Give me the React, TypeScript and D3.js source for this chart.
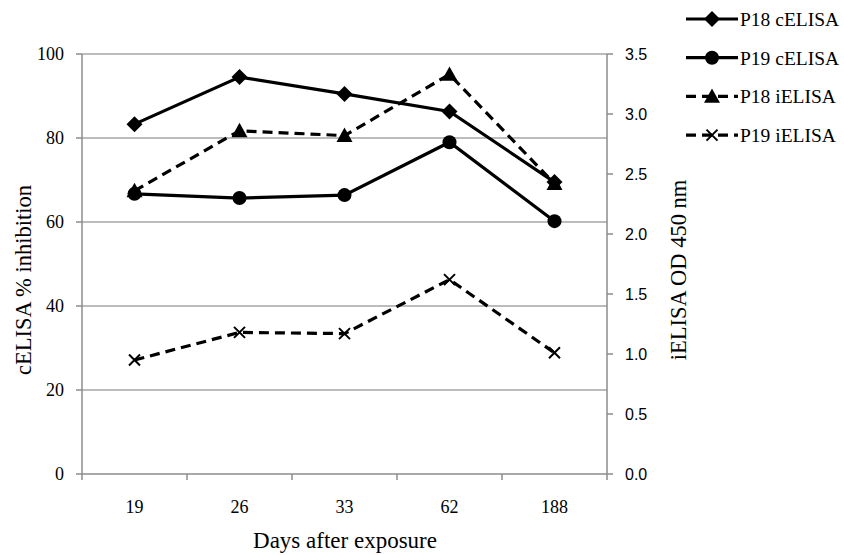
import React from "react";
import * as d3 from "d3";

const categories = ["19", "26", "33", "62", "188"];
const p18cELISA = [83.3, 94.5, 90.5, 86.3, 69.5];
const p19cELISA = [66.7, 65.7, 66.4, 79.0, 60.2];
const p18iELISA = [2.36, 2.86, 2.82, 3.33, 2.42];
const p19iELISA = [0.95, 1.18, 1.17, 1.62, 1.01];
const leftTicks = [0, 20, 40, 60, 80, 100];
const rightTicks = [0, 0.5, 1.0, 1.5, 2.0, 2.5, 3.0, 3.5];
const legendLabels = ["P18 cELISA", "P19 cELISA", "P18 iELISA", "P19 iELISA"];

const W = 844, H = 555;
const left = 82, right = 607, top = 54, bottom = 474;
const serif = "'Liberation Serif', 'Times New Roman', serif";
const sans = "'Liberation Sans', Arial, sans-serif";

type Marker = "diamond" | "circle" | "triangle" | "x";

function MarkerShape({ type, x, y }: { type: Marker; x: number; y: number }) {
  if (type === "diamond") {
    const s = 8;
    return <path d={`M${x},${y - s}L${x + s},${y}L${x},${y + s}L${x - s},${y}Z`} fill="#000" />;
  }
  if (type === "circle") return <circle cx={x} cy={y} r={7} fill="#000" />;
  if (type === "triangle") {
    const s = 8;
    return <path d={`M${x},${y - s}L${x + s},${y + s * 0.8}L${x - s},${y + s * 0.8}Z`} fill="#000" />;
  }
  const s = 5.5;
  return (
    <path d={`M${x - s},${y - s}L${x + s},${y + s}M${x - s},${y + s}L${x + s},${y - s}`} stroke="#000" strokeWidth={2} />
  );
}

export default function App() {
  const x = d3.scaleBand<string>().domain(categories).range([left, right]);
  const yL = d3.scaleLinear().domain([0, 100]).range([bottom, top]);
  const yR = d3.scaleLinear().domain([0, 3.5]).range([bottom, top]);
  const cx = (c: string) => (x(c) as number) + x.bandwidth() / 2;

  const series: { vals: number[]; scale: d3.ScaleLinear<number, number>; dashed: boolean; marker: Marker }[] = [
    { vals: p18cELISA, scale: yL, dashed: false, marker: "diamond" },
    { vals: p19cELISA, scale: yL, dashed: false, marker: "circle" },
    { vals: p18iELISA, scale: yR, dashed: true, marker: "triangle" },
    { vals: p19iELISA, scale: yR, dashed: true, marker: "x" },
  ];

  const line = (vals: number[], s: d3.ScaleLinear<number, number>) =>
    d3.line<number>().x((_, i) => cx(categories[i])).y((v) => s(v))(vals) as string;

  const axisColor = "#8c8c8c";
  const xTickPos = [...categories.map((c) => x(c) as number), right];

  return (
    <svg width={W} height={H} style={{ position: "absolute", left: 0, top: 0, background: "#fff" }}>
      {/* gridlines */}
      {leftTicks.filter((t) => t > 0).map((t) => (
        <line key={t} x1={left} x2={right} y1={yL(t)} y2={yL(t)} stroke="#a6a6a6" strokeWidth={1.5} />
      ))}
      {/* left axis */}
      <line x1={left} x2={left} y1={top} y2={bottom} stroke={axisColor} strokeWidth={1.5} />
      {leftTicks.map((t) => (
        <g key={t}>
          <line x1={left - 6} x2={left} y1={yL(t)} y2={yL(t)} stroke={axisColor} strokeWidth={1.5} />
          <text x={64} y={yL(t)} dy="0.35em" textAnchor="end" fontFamily={serif} fontSize={18}>{t}</text>
        </g>
      ))}
      {/* right axis */}
      <line x1={right} x2={right} y1={top} y2={bottom} stroke={axisColor} strokeWidth={1.5} />
      {rightTicks.map((t) => (
        <g key={t}>
          <line x1={right} x2={right + 6} y1={yR(t)} y2={yR(t)} stroke={axisColor} strokeWidth={1.5} />
          <text x={right + 18} y={yR(t)} dy="0.35em" textAnchor="start" fontFamily={sans} fontSize={16}>{t.toFixed(1)}</text>
        </g>
      ))}
      {/* x axis */}
      <line x1={left} x2={right} y1={bottom} y2={bottom} stroke={axisColor} strokeWidth={1.5} />
      {xTickPos.map((p, i) => (
        <line key={i} x1={p} x2={p} y1={bottom} y2={bottom + 6} stroke={axisColor} strokeWidth={1.5} />
      ))}
      {categories.map((c) => (
        <text key={c} x={cx(c)} y={bottom + 39} textAnchor="middle" fontFamily={serif} fontSize={18}>{c}</text>
      ))}
      {/* titles */}
      <text x={345} y={548} textAnchor="middle" fontFamily={serif} fontSize={23}>Days after exposure</text>
      <text transform={`translate(31,280) rotate(-90)`} textAnchor="middle" fontFamily={serif} fontSize={22.5}>cELISA % inhibition</text>
      <text transform={`translate(686,270) rotate(-90)`} textAnchor="middle" fontFamily={serif} fontSize={22.5}>iELISA OD 450 nm</text>
      {/* series */}
      {series.map((s, i) => (
        <g key={i}>
          <path d={line(s.vals, s.scale)} fill="none" stroke="#000" strokeWidth={3.2} strokeDasharray={s.dashed ? "10,6" : undefined} />
          {s.vals.map((v, j) => (
            <MarkerShape key={j} type={s.marker} x={cx(categories[j])} y={s.scale(v)} />
          ))}
        </g>
      ))}
      {/* legend */}
      {series.map((s, i) => {
        const ly = 19 + i * 38.7;
        return (
          <g key={i}>
            <line x1={686} x2={738} y1={ly} y2={ly} stroke="#000" strokeWidth={3.2} strokeDasharray={s.dashed ? "10,6" : undefined} />
            <MarkerShape type={s.marker} x={712} y={ly} />
            <text x={740} y={ly} dy="0.35em" fontFamily={serif} fontSize={19.5}>{legendLabels[i]}</text>
          </g>
        );
      })}
    </svg>
  );
}
